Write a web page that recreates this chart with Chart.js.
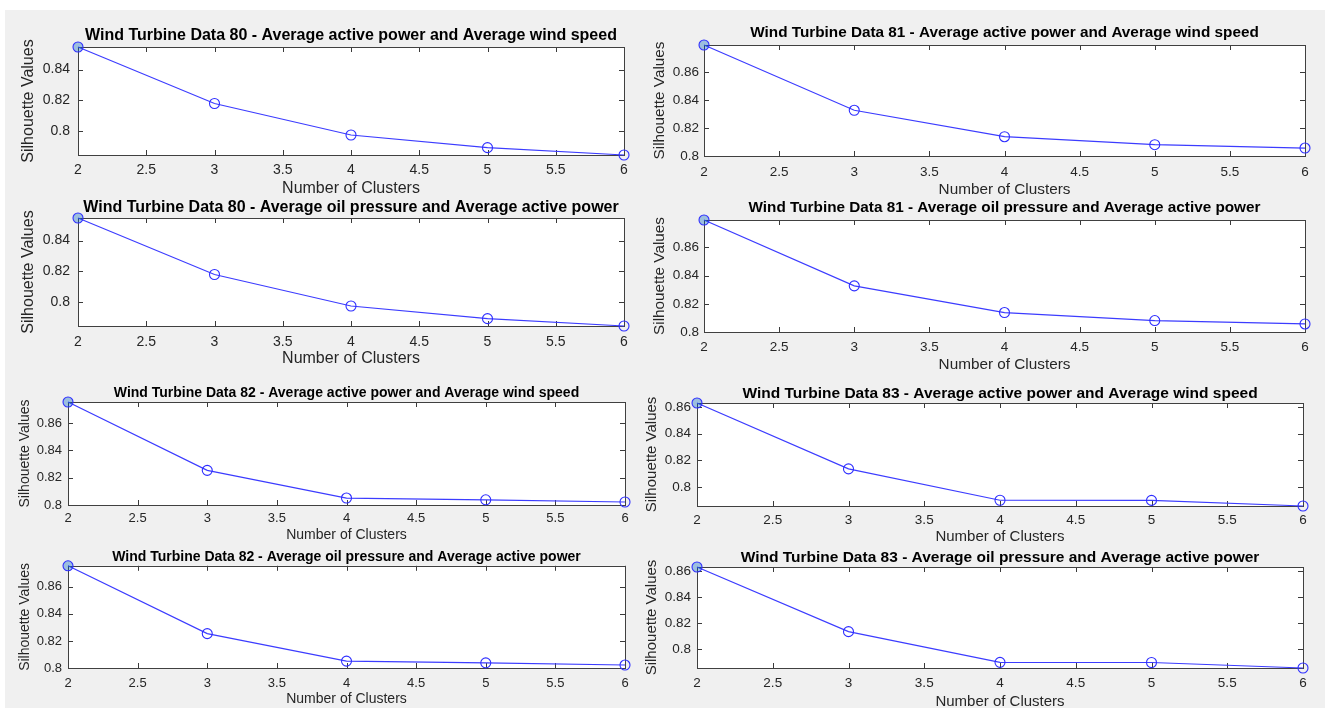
<!DOCTYPE html>
<html><head><meta charset="utf-8">
<script src="https://cdn.jsdelivr.net/npm/chart.js@4.4.1/dist/chart.umd.min.js"></script>
<style>
html,body{margin:0;padding:0;background:#fff;width:1325px;height:708px;overflow:hidden;position:relative;}
#bg{position:absolute;left:5px;top:10px;width:1320px;height:698px;background:#f0f0f0;}
.c{position:absolute;}
</style></head><body>
<div id="bg"></div>
<script>
// ---------------- data ----------------
const clusters = [2, 3, 4, 5, 6];
const xTickValues = [2, 2.5, 3, 3.5, 4, 4.5, 5, 5.5, 6];
const xTickLabels = ['2', '2.5', '3', '3.5', '4', '4.5', '5', '5.5', '6'];

const silhouette80 = [0.8548, 0.8178, 0.7972, 0.7889, 0.7841];
const silhouette81 = [0.8794, 0.8327, 0.8138, 0.8081, 0.8057];
const silhouette82 = [0.8755, 0.8254, 0.8051, 0.8038, 0.8022];
const silhouette83 = [0.8629, 0.8135, 0.7900, 0.7899, 0.7857];

const yLimits80 = [0.7841, 0.8548];
const yLimits81 = [0.8, 0.8794];
const yLimits82 = [0.8, 0.8755];
const yLimits83 = [0.7857, 0.8629];

const yTicks80 = [0.8, 0.82, 0.84];
const yTickLabels80 = ['0.8', '0.82', '0.84'];
const yTicks81 = [0.8, 0.82, 0.84, 0.86];
const yTickLabels81 = ['0.8', '0.82', '0.84', '0.86'];
const yTicks82 = [0.8, 0.82, 0.84, 0.86];
const yTickLabels82 = ['0.8', '0.82', '0.84', '0.86'];
const yTicks83 = [0.8, 0.82, 0.84, 0.86];
const yTickLabels83 = ['0.8', '0.82', '0.84', '0.86'];

const titleA = 'Average active power and Average wind speed';
const titleB = 'Average oil pressure and Average active power';
const xAxisLabel = 'Number of Clusters';
const yAxisLabel = 'Silhouette Values';

// ---------------- rendering ----------------
const FAMILY = "'Liberation Sans', Arial, Helvetica, sans-serif";

const matlabAxes = {
  id: 'matlabAxes',
  beforeDraw(chart) {
    const a = chart.chartArea, ctx = chart.ctx;
    ctx.save();
    ctx.fillStyle = '#ffffff';
    ctx.fillRect(a.left, a.top, a.right - a.left, a.bottom - a.top);
    ctx.restore();
  },
  beforeDatasetsDraw(chart) {
    const a = chart.chartArea, ctx = chart.ctx;
    const xs = chart.scales.x, ys = chart.scales.y;
    const tl = 5;
    ctx.save();
    ctx.strokeStyle = '#3a3a3a';
    ctx.lineWidth = 1;
    ctx.beginPath();
    xs.ticks.forEach(t => {
      const px = Math.round(xs.getPixelForValue(t.value)) + 0.5;
      ctx.moveTo(px, a.bottom); ctx.lineTo(px, a.bottom - tl);
      ctx.moveTo(px, a.top); ctx.lineTo(px, a.top + tl);
    });
    ys.ticks.forEach(t => {
      const py = Math.round(ys.getPixelForValue(t.value)) + 0.5;
      ctx.moveTo(a.left, py); ctx.lineTo(a.left + tl, py);
      ctx.moveTo(a.right, py); ctx.lineTo(a.right - tl, py);
    });
    ctx.stroke();
    ctx.strokeStyle = '#404040';
    ctx.strokeRect(Math.round(a.left) + 0.5, Math.round(a.top) + 0.5,
                   Math.round(a.right - a.left), Math.round(a.bottom - a.top));
    ctx.restore();
  }
};

function makeChart(p) {
  const lhT = p.fT * 1.2, lhL = p.fL * 1.2, lhK = p.fK * 1.2;
  const cLeft = Math.round(p.ylabX - lhL / 2);
  const cTop = Math.round(p.titleY - lhT / 2);
  const padR = 16, padB = 2;
  const cRight = p.R + padR;
  const cBottom = Math.round(p.xlabY + lhL / 2) + padB;
  const W = cRight - cLeft, H = cBottom - cTop;
  const yW = p.L - cLeft;
  const xH = cBottom - padB - p.B;
  const titlePadB = Math.max(0, p.T - cTop - lhT);
  const xTickPad = Math.max(0, p.tickY - p.B - lhK / 2);

  const div = document.createElement('div');
  div.className = 'c';
  div.style.left = cLeft + 'px';
  div.style.top = cTop + 'px';
  div.style.width = W + 'px';
  div.style.height = H + 'px';
  const cv = document.createElement('canvas');
  cv.width = W; cv.height = H;
  cv.style.width = W + 'px'; cv.style.height = H + 'px';
  div.appendChild(cv);
  document.body.appendChild(div);

  new Chart(cv.getContext('2d'), {
    type: 'line',
    data: {
      datasets: [{
        data: clusters.map((c, i) => ({ x: c, y: p.values[i] })),
        borderColor: '#3c3cff',
        borderWidth: 1.2,
        tension: 0,
        fill: false,
        pointStyle: 'circle',
        pointRadius: 5,
        pointHoverRadius: 5,
        pointBorderColor: '#2e2eff',
        pointBorderWidth: 1.1,
        pointBackgroundColor: p.values.map((v, i) => i === 0 ? 'rgba(0,100,190,0.35)' : 'rgba(0,0,0,0)'),
        clip: false
      }]
    },
    options: {
      responsive: false,
      devicePixelRatio: 1,
      animation: false,
      events: [],
      layout: { padding: { left: 0, top: 0, right: padR, bottom: padB } },
      plugins: {
        legend: { display: false },
        tooltip: { enabled: false },
        title: {
          display: true,
          text: p.title,
          fullSize: false,
          color: '#000000',
          font: { family: FAMILY, size: p.fT, weight: 'bold', lineHeight: 1.2 },
          padding: { top: 0, bottom: titlePadB }
        }
      },
      scales: {
        x: {
          type: 'linear',
          min: xTickValues[0],
          max: xTickValues[xTickValues.length - 1],
          afterBuildTicks: s => { s.ticks = xTickValues.map(v => ({ value: v })); },
          afterFit: s => { s.height = xH; s.paddingLeft = 0; s.paddingRight = 0; },
          grid: { display: false, drawTicks: false },
          border: { display: false },
          ticks: {
            padding: xTickPad,
            autoSkip: false, maxRotation: 0, minRotation: 0,
            color: '#262626',
            font: { family: FAMILY, size: p.fK, lineHeight: 1.2 },
            callback: v => xTickLabels[xTickValues.indexOf(v)]
          },
          title: {
            display: true, text: xAxisLabel, color: '#262626',
            font: { family: FAMILY, size: p.fL, lineHeight: 1.2 },
            padding: { top: 0, bottom: 0 }
          }
        },
        y: {
          type: 'linear',
          min: p.lim[0],
          max: p.lim[1],
          afterBuildTicks: s => { s.ticks = p.yt.map(v => ({ value: v })); },
          afterFit: s => { s.width = yW; s.paddingTop = 0; s.paddingBottom = 0; },
          grid: { display: false, drawTicks: false },
          border: { display: false },
          ticks: {
            padding: p.py,
            color: '#262626',
            font: { family: FAMILY, size: p.fK, lineHeight: 1.2 },
            callback: v => p.ytl[p.yt.indexOf(v)]
          },
          title: {
            display: true, text: yAxisLabel, color: '#262626',
            font: { family: FAMILY, size: p.fL, lineHeight: 1.2 },
            padding: { top: 0, bottom: 0 }
          }
        }
      }
    },
    plugins: [matlabAxes]
  });
}

const LT = { fT: 16, fL: 16, fK: 14, py: 8 };
const RT = { fT: 15.3, fL: 15.3, fK: 13.5, py: 5 };
const LB = { fT: 14, fL: 14, fK: 13, py: 6 };
const RB = { fT: 15.5, fL: 15, fK: 13.5, py: 6 };

const panels = [
  Object.assign({}, LT, { title: 'Wind Turbine Data 80 - ' + titleA, values: silhouette80, lim: yLimits80, yt: yTicks80, ytl: yTickLabels80,
    L: 78, R: 624, T: 47, B: 155, titleY: 36, tickY: 170, xlabY: 188, ylabX: 29 }),
  Object.assign({}, RT, { title: 'Wind Turbine Data 81 - ' + titleA, values: silhouette81, lim: yLimits81, yt: yTicks81, ytl: yTickLabels81,
    L: 704, R: 1305, T: 45, B: 156, titleY: 33, tickY: 172, xlabY: 190, ylabX: 660 }),
  Object.assign({}, LT, { title: 'Wind Turbine Data 80 - ' + titleB, values: silhouette80, lim: yLimits80, yt: yTicks80, ytl: yTickLabels80,
    L: 78, R: 624, T: 218, B: 326, titleY: 208, tickY: 342, xlabY: 358, ylabX: 29 }),
  Object.assign({}, RT, { title: 'Wind Turbine Data 81 - ' + titleB, values: silhouette81, lim: yLimits81, yt: yTicks81, ytl: yTickLabels81,
    L: 704, R: 1305, T: 220, B: 332, titleY: 208, tickY: 347, xlabY: 365, ylabX: 660 }),
  Object.assign({}, LB, { title: 'Wind Turbine Data 82 - ' + titleA, values: silhouette82, lim: yLimits82, yt: yTicks82, ytl: yTickLabels82,
    L: 68, R: 625, T: 402, B: 505, titleY: 393, tickY: 518, xlabY: 536, ylabX: 25 }),
  Object.assign({}, RB, { title: 'Wind Turbine Data 83 - ' + titleA, values: silhouette83, lim: yLimits83, yt: yTicks83, ytl: yTickLabels83,
    L: 697, R: 1303, T: 403, B: 506, titleY: 393, tickY: 520, xlabY: 537, ylabX: 652 }),
  Object.assign({}, LB, { title: 'Wind Turbine Data 82 - ' + titleB, values: silhouette82, lim: yLimits82, yt: yTicks82, ytl: yTickLabels82,
    L: 68, R: 625, T: 565, B: 668, titleY: 557, tickY: 683, xlabY: 700, ylabX: 25 }),
  Object.assign({}, RB, { title: 'Wind Turbine Data 83 - ' + titleB, values: silhouette83, lim: yLimits83, yt: yTicks83, ytl: yTickLabels83,
    L: 697, R: 1303, T: 567, B: 668, titleY: 557, tickY: 683, xlabY: 702, ylabX: 652 })
];

panels.forEach(makeChart);
</script>
</body></html>
